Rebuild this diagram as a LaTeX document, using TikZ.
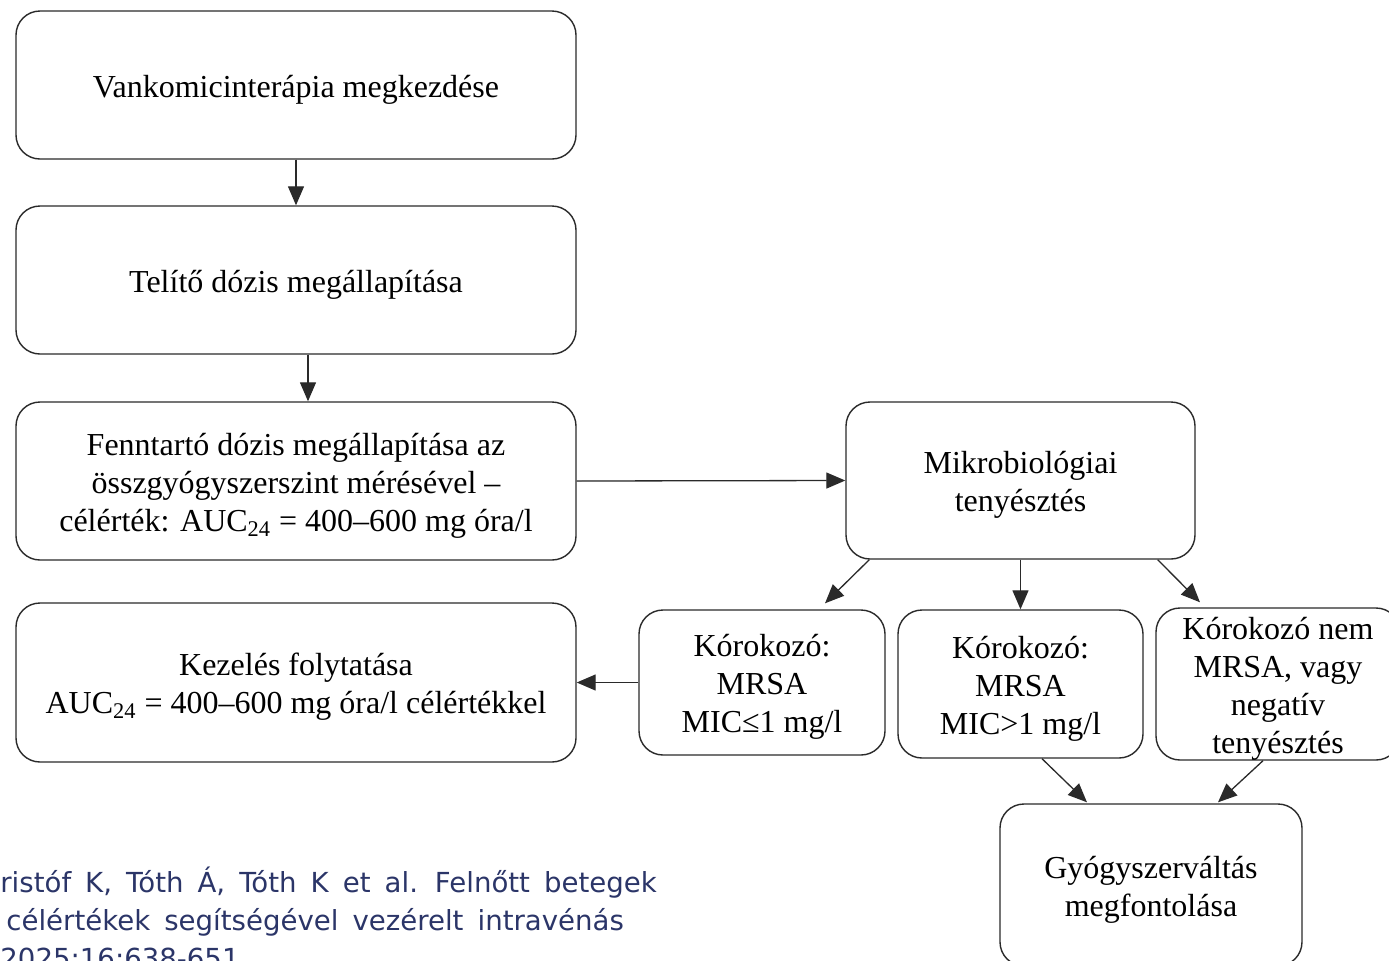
\documentclass[tikz,border=0pt]{standalone}
\usepackage{fontspec}
\setmainfont{Liberation Serif}
\newfontfamily\citefont[WordSpace=1.6]{DejaVu Sans}
\usetikzlibrary{arrows.meta,calc}
\definecolor{citeblue}{HTML}{2B3568}
\definecolor{ln}{HTML}{2A2A2A}
\newcommand\bt[1]{\raisebox{-2.25pt}[\height][\depth]{\begin{tabular}{@{}c@{}}#1\end{tabular}}}
\tikzset{
 box/.style={draw=ln, line width=0.7pt, rounded corners=12pt,
   font=\fontsize{16}{19}\selectfont, inner sep=0pt},
 arr/.style={-{Triangle[length=9.5pt,width=8pt]}, line width=0.65pt, draw=ln, fill=ln},
 cite/.style={anchor=base west, inner sep=0pt, text=citeblue, font=\citefont\fontsize{13.8}{19}\selectfont},
}
\begin{document}
\begin{tikzpicture}[x=0.5pt,y=-0.5pt]
\useasboundingbox (0,0) rectangle (1389,960);
\clip (0,0) rectangle (1389,960);
\node[box, minimum width=280pt, minimum height=74pt] (b1) at (296,85) {\bt{Vankomicinterápia megkezdése}};
\node[box, minimum width=280pt, minimum height=74pt] (b2) at (296,280) {\bt{Telítő dózis megállapítása}};
\node[box, minimum width=280pt, minimum height=79pt] (b3) at (296,481) {\bt{Fenntartó dózis megállapítása az\\összgyógyszerszint mérésével –\\célérték: AUC\textsubscript{24} = 400–600 mg óra/l}};
\node[box, minimum width=280pt, minimum height=79.5pt] (b4) at (296,682.5) {\bt{Kezelés folytatása\\AUC\textsubscript{24} = 400–600 mg óra/l célértékkel}};
\node[box, minimum width=174.5pt, minimum height=78.5pt] (mik) at (1020.5,480.5) {\bt{Mikrobiológiai\\tenyésztés}};
\node[box, minimum width=123pt, minimum height=72.5pt] (k1) at (762,682.5) {\bt{Kórokozó:\\MRSA\\MIC≤1 mg/l}};
\node[box, minimum width=122.5pt, minimum height=74pt] (k2) at (1020.5,684) {\bt{Kórokozó:\\MRSA\\MIC>1 mg/l}};
\node[box, minimum width=122pt, minimum height=74pt] (k3) at (1278,684) {\bt{Kórokozó nem\\MRSA, vagy\\negatív\\tenyésztés}};
\node[box, minimum width=151pt, minimum height=81pt] (gy) at (1151,885) {\bt{Gyógyszerváltás\\megfontolása}};

\draw[arr] (b1.south) -- (b2.north);
\draw[arr] ($(b2.south)+(12,0)$) -- ($(b3.north)+(12,0)$);
\draw[arr] (b3.east) -- (mik.west);
\draw[arr] (k1.west) -- (b4.east);
\draw[arr] ($(mik.south west)+(24,0)$) -- ($(k1.north)+(63,-6)$);
\draw[arr] (mik.south) -- (k2.north);
\draw[arr] ($(mik.south east)+(-38,0)$) -- ($(k3.north)+(-78,-5)$);
\draw[arr] ($(k2.south)+(21.5,0)$) -- ($(gy.north)+(-64,-1)$);
\draw[arr] ($(k3.south)+(-15,0)$) -- ($(gy.north)+(67,-1)$);

\node[cite] (c1) at (0,892) {ristóf K, Tóth Á, Tóth K et al. Felnőtt betegek};
\node[cite] (c2) at (6,930) {célértékek segítségével vezérelt intravénás};
\node[cite] (c3) at (0,968) {2025;16:638-651};
\end{tikzpicture}
\end{document}
